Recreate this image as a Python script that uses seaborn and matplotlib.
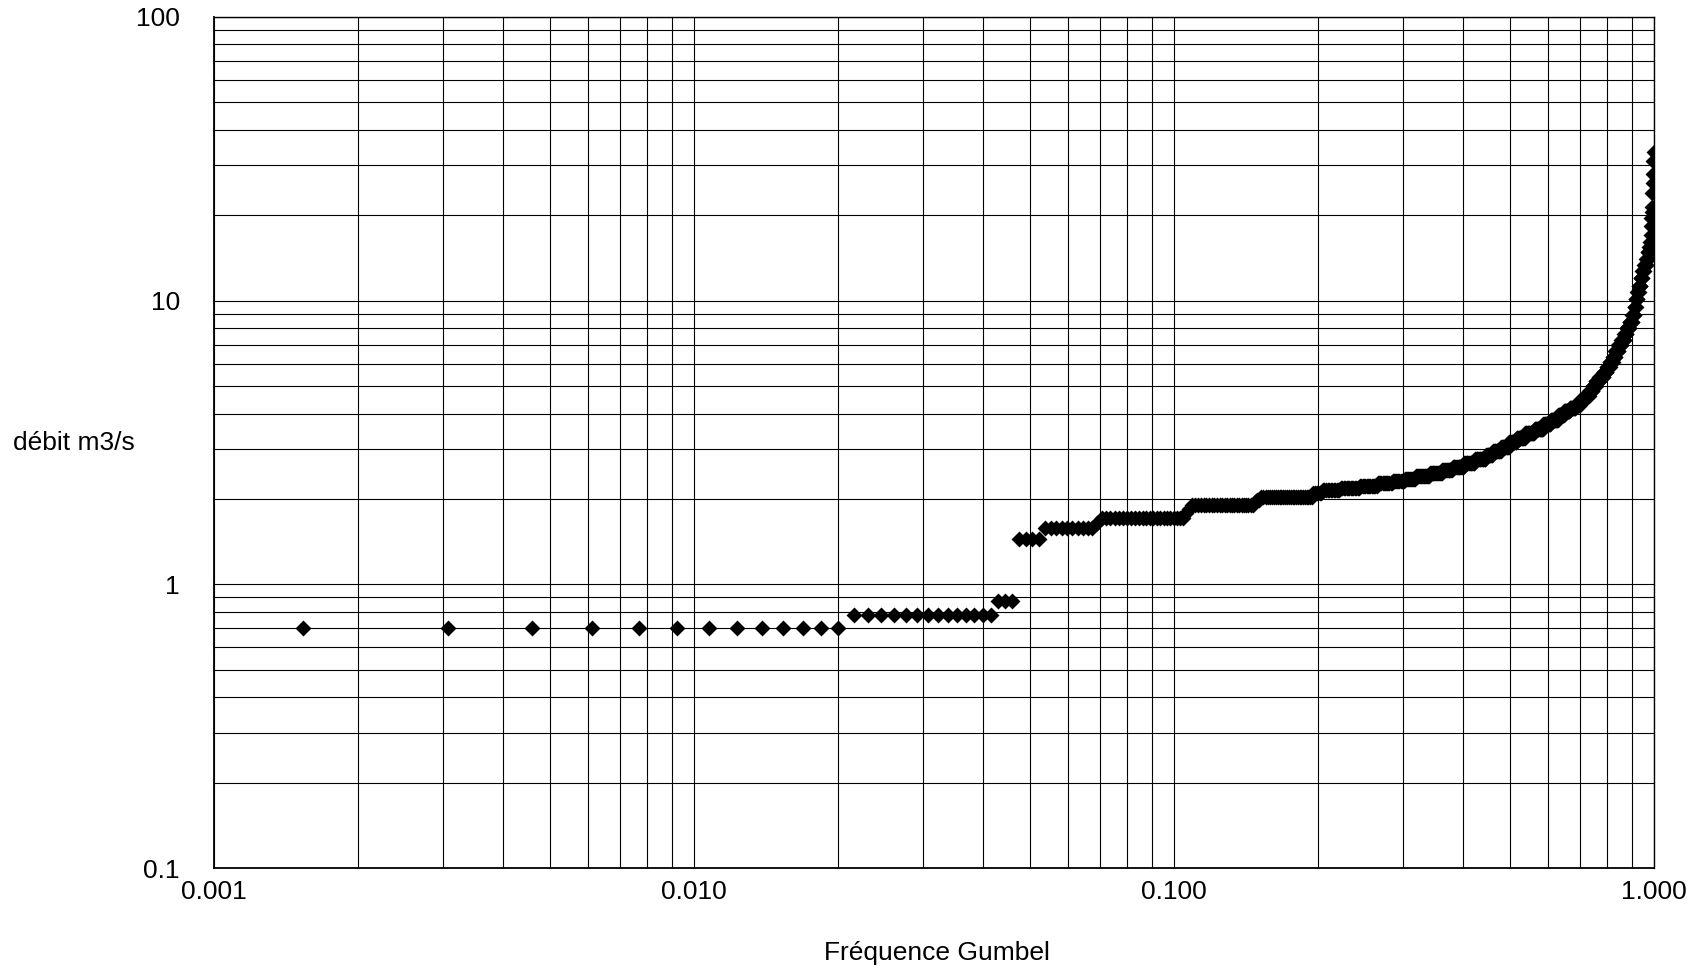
import numpy as np
import matplotlib
matplotlib.use("Agg")
import matplotlib.pyplot as plt
from matplotlib.ticker import LogLocator, NullFormatter
import seaborn as sns

# débits classés (m3/s) et nombre de valeurs à chaque niveau
debit_niveaux = [0.70, 0.78, 0.87, 1.45, 1.58, 1.65, 1.72, 1.78, 1.84, 1.90, 1.95, 1.99, 2.03,
                 2.10, 2.15, 2.19, 2.23, 2.27, 2.31, 2.35, 2.41, 2.47, 2.53, 2.60, 2.68, 2.77, 2.86, 2.96, 3.06,
                 3.18, 3.29, 3.41, 3.54, 3.66, 3.80, 3.96, 4.10, 4.20, 4.30, 4.45, 4.60, 4.80, 5.00, 5.20, 5.40,
                 5.60, 5.85, 6.10, 6.35, 6.65, 6.95, 7.25, 7.60, 8.00, 8.40, 8.90, 9.50, 10.1, 10.7, 11.3, 12.0,
                 12.7, 13.4, 14.0, 14.8, 15.5, 16.1, 17.0, 18.4, 19.5, 20.6, 21.4, 23.9, 25.9, 28.0, 31.0, 33.5]
nb_valeurs = [13, 14, 3, 4, 10, 1, 23, 1, 1, 25, 1, 2, 28,
              6, 12, 14, 14, 13, 11, 11, 14, 14, 12, 14, 14, 15, 10, 12, 12,
              12, 14, 16, 16, 14, 14, 12, 12, 12, 10, 10, 10, 8, 8, 8, 10,
              8, 8, 8, 6, 8, 8, 8, 6, 8, 8, 6, 4, 4, 5, 5, 5,
              5, 6, 6, 4, 3, 1, 1, 1, 1, 1, 1, 1, 1, 1, 1, 1]

x_ticks = [0.001, 0.01, 0.1, 1.0]
x_tick_labels = ["0.001", "0.010", "0.100", "1.000"]
y_ticks = [0.1, 1, 10, 100]
y_tick_labels = ["0.1", "1", "10", "100"]

sns.set_theme(style="white")
plt.rcParams["font.family"] = ["Liberation Sans", "DejaVu Sans"]

# fréquence empirique de Gumbel : rang / (n + 1)
debits = np.repeat(debit_niveaux, nb_valeurs)
rang = np.arange(1, len(debits) + 1)
frequence = rang / (len(debits) + 1)

W, H = 1692, 971
fig = plt.figure(figsize=(W / 100, H / 100), dpi=100)
ax = fig.add_axes([214 / W, 1 - 868 / H, 1440 / W, 851 / H])

sns.scatterplot(x=frequence, y=debits, marker="D", color="black", s=66,
                linewidth=0, ax=ax, zorder=3)

ax.set_xscale("log")
ax.set_yscale("log")
ax.set_xlim(0.001, 1.0)
ax.set_ylim(0.1, 100)

ax.set_xticks(x_ticks, x_tick_labels)
ax.set_yticks(y_ticks, y_tick_labels)
ax.xaxis.set_minor_locator(LogLocator(base=10, subs=np.arange(2, 10)))
ax.yaxis.set_minor_locator(LogLocator(base=10, subs=np.arange(2, 10)))
ax.xaxis.set_minor_formatter(NullFormatter())
ax.yaxis.set_minor_formatter(NullFormatter())

ax.grid(True, which="both", color="black", linewidth=0.8)
ax.set_axisbelow(True)
for sp in ax.spines.values():
    sp.set_color("black")
    sp.set_linewidth(1.0)
ax.spines["left"].set_linewidth(1.3)
ax.spines["bottom"].set_linewidth(1.3)

ax.tick_params(axis="both", which="major", direction="out", length=8.6, width=1.0,
               color="black", labelsize=19, labelcolor="black")
ax.tick_params(axis="x", which="major", pad=0)
ax.tick_params(axis="y", which="major", pad=16)
ax.tick_params(axis="both", which="minor", length=0)

ax.set_xlabel("Fréquence Gumbel", fontsize=19, color="black", va="center")
ax.xaxis.set_label_coords(0.502, -0.10)
ax.set_ylabel("débit m3/s", fontsize=19, color="black", rotation=0,
              ha="center", va="center")
ax.yaxis.set_label_coords(-0.097, 0.50)

fig.savefig("out.png", dpi=100)
